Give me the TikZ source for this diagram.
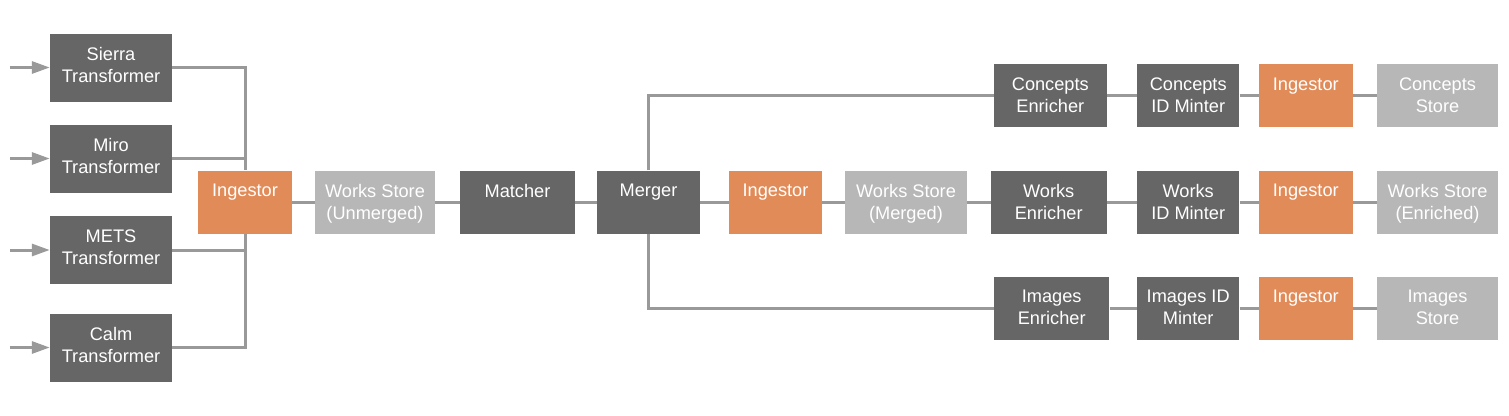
\documentclass[tikz,border=0pt]{standalone}
\usepackage{fontspec}
\setmainfont{Liberation Sans}
\usetikzlibrary{arrows.meta}
\definecolor{stagegray}{HTML}{666666}
\definecolor{ingestorange}{HTML}{E18B59}
\definecolor{storegray}{HTML}{B7B7B7}
\definecolor{pipegray}{HTML}{999999}

\begin{document}
\begin{tikzpicture}[x=1pt,y=-1pt,
  box/.style={rectangle, inner sep=0, minimum height=63pt},
  service/.style={box, fill=stagegray},
  ingest/.style={box, fill=ingestorange, minimum width=93.5pt},
  store/.style={box, fill=storegray, minimum width=121.5pt},
  txt/.style={anchor=north, yshift=-13.5pt, inner sep=0, align=center, text=white, font=\fontsize{18.2}{22}\selectfont},
  pipe/.style={line width=3pt, pipegray}]
\useasboundingbox (0,0) rectangle (1509,415);

\node[service, minimum width=122pt, minimum height=68pt, label={[txt]north:Sierra\\Transformer}] (sierra) at (111,67.5) {};
\node[service, minimum width=122pt, minimum height=68pt, label={[txt]north:Miro\\Transformer}] (miro) at (111,158.5) {};
\node[service, minimum width=122pt, minimum height=68pt, label={[txt]north:METS\\Transformer}] (mets) at (111,250) {};
\node[service, minimum width=122pt, minimum height=68pt, label={[txt]north:Calm\\Transformer}] (calm) at (111,347.5) {};

\node[ingest, label={[txt]north:Ingestor}] (ingestor) at (245,202) {};
\node[store, minimum width=120pt, label={[txt]north:Works Store\\(Unmerged)}] (unmerged) at (375,202) {};
\node[service, minimum width=115pt, label={[txt]north:Matcher}] (matcher) at (517.5,202) {};
\node[service, minimum width=103pt, label={[txt]north:Merger}] (merger) at (648.5,202) {};
\node[ingest, label={[txt]north:Ingestor}] (mergedingestor) at (775.5,202) {};
\node[store, label={[txt]north:Works Store\\(Merged)}] (merged) at (906,202) {};

\node[service, minimum width=112.7pt, label={[txt]north:Concepts\\Enricher}] (conceptsenricher) at (1050.3,95.8) {};
\node[service, minimum width=102.3pt, label={[txt]north:Concepts\\ID Minter}] (conceptsminter) at (1188.2,95.8) {};
\node[ingest, label={[txt]north:Ingestor}] (conceptsingestor) at (1305.8,95.8) {};
\node[store, label={[txt]north:Concepts\\Store}] (concepts) at (1437.5,95.8) {};

\node[service, minimum width=116pt, label={[txt]north:Works\\Enricher}] (worksenricher) at (1048.7,202) {};
\node[service, minimum width=102.3pt, label={[txt]north:Works\\ID Minter}] (worksminter) at (1188.2,202) {};
\node[ingest, label={[txt]north:Ingestor}] (worksingestor) at (1305.8,202) {};
\node[store, label={[txt]north:Works Store\\(Enriched)}] (enriched) at (1437.5,202) {};

\node[service, minimum width=115.3pt, label={[txt]north:Images\\Enricher}] (imagesenricher) at (1051.7,308.2) {};
\node[service, minimum width=102.3pt, label={[txt]north:Images ID\\Minter}] (imagesminter) at (1188.2,308.2) {};
\node[ingest, label={[txt]north:Ingestor}] (imagesingestor) at (1305.8,308.2) {};
\node[store, label={[txt]north:Images\\Store}] (images) at (1437.5,308.2) {};

\foreach \src in {sierra,miro,mets,calm} {
  \coordinate (\src in) at ([xshift=-40pt]\src.west);
  \draw[pipe, -{Triangle[length=18pt,width=12pt]}] (\src in) -- (\src);
  \draw[pipe] (\src) -| (ingestor);
}

\draw[pipe] (ingestor) -- (unmerged) -- (matcher) -- (merger) -- (mergedingestor) -- (merged) -- (worksenricher) -- (worksminter) -- (worksingestor) -- (enriched);
\draw[pipe] (merger) |- (conceptsenricher);
\draw[pipe] (merger) |- (imagesenricher);
\draw[pipe] (conceptsenricher) -- (conceptsminter) -- (conceptsingestor) -- (concepts);
\draw[pipe] (imagesenricher) -- (imagesminter) -- (imagesingestor) -- (images);
\end{tikzpicture}
\end{document}
